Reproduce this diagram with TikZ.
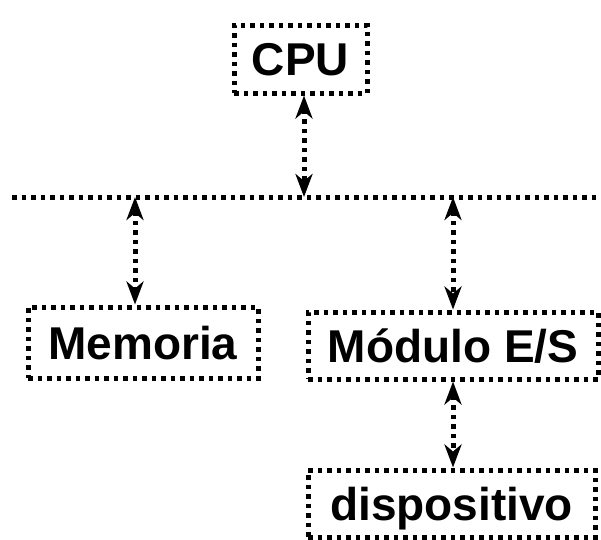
\documentclass[tikz,border=0pt]{standalone}
\usepackage{fontspec}
\setmainfont{Liberation Sans}
\usepackage{tikz}
\usetikzlibrary{arrows.meta, positioning}

\begin{document}
\begin{tikzpicture}[x=1pt, y=-1pt,
    dots/.style={line width=5pt, dash pattern=on 4.5pt off 5pt},
    unit/.style={draw, dots, inner sep=0pt, align=center, text height=33pt, text depth=0pt,
        font=\fontsize{46}{52}\selectfont\bfseries},
    arr/.style={dots, {Stealth[length=23pt, width=17pt, inset=7pt]}-{Stealth[length=23pt, width=17pt, inset=7pt]}},
]
\useasboundingbox (0,0) rectangle (601,539);

% Units
\node[unit, minimum width=133pt, minimum height=68pt] (cpu) at (300.5, 59) {CPU};
\node[unit, minimum width=230pt, minimum height=71pt] (mem) at (143, 342.5) {Memoria};
\node[unit, minimum width=290pt, minimum height=67pt] (mod) at (453, 345.5) {Módulo E/S};
\node[unit, minimum width=287pt, minimum height=67pt] (dev) at (451.5, 503.5) {dispositivo};

% Bus
\coordinate (busl) at (12, 197);
\coordinate (busr) at (598, 197);
\draw[dots] (busl) -- (busr);
\coordinate (bcpu) at (304, 197);
\coordinate (bmem) at (135, 197);
\coordinate (bmod) at (453, 197);

% Arrows
\draw[arr] (cpu.south -| bcpu) -- (bcpu);
\draw[arr] (bmem) -- (mem.north -| bmem);
\draw[arr] (bmod) -- (mod.north -| bmod);
\draw[arr] (mod.south -| bmod) -- (dev.north -| bmod);
\end{tikzpicture}
\end{document}
